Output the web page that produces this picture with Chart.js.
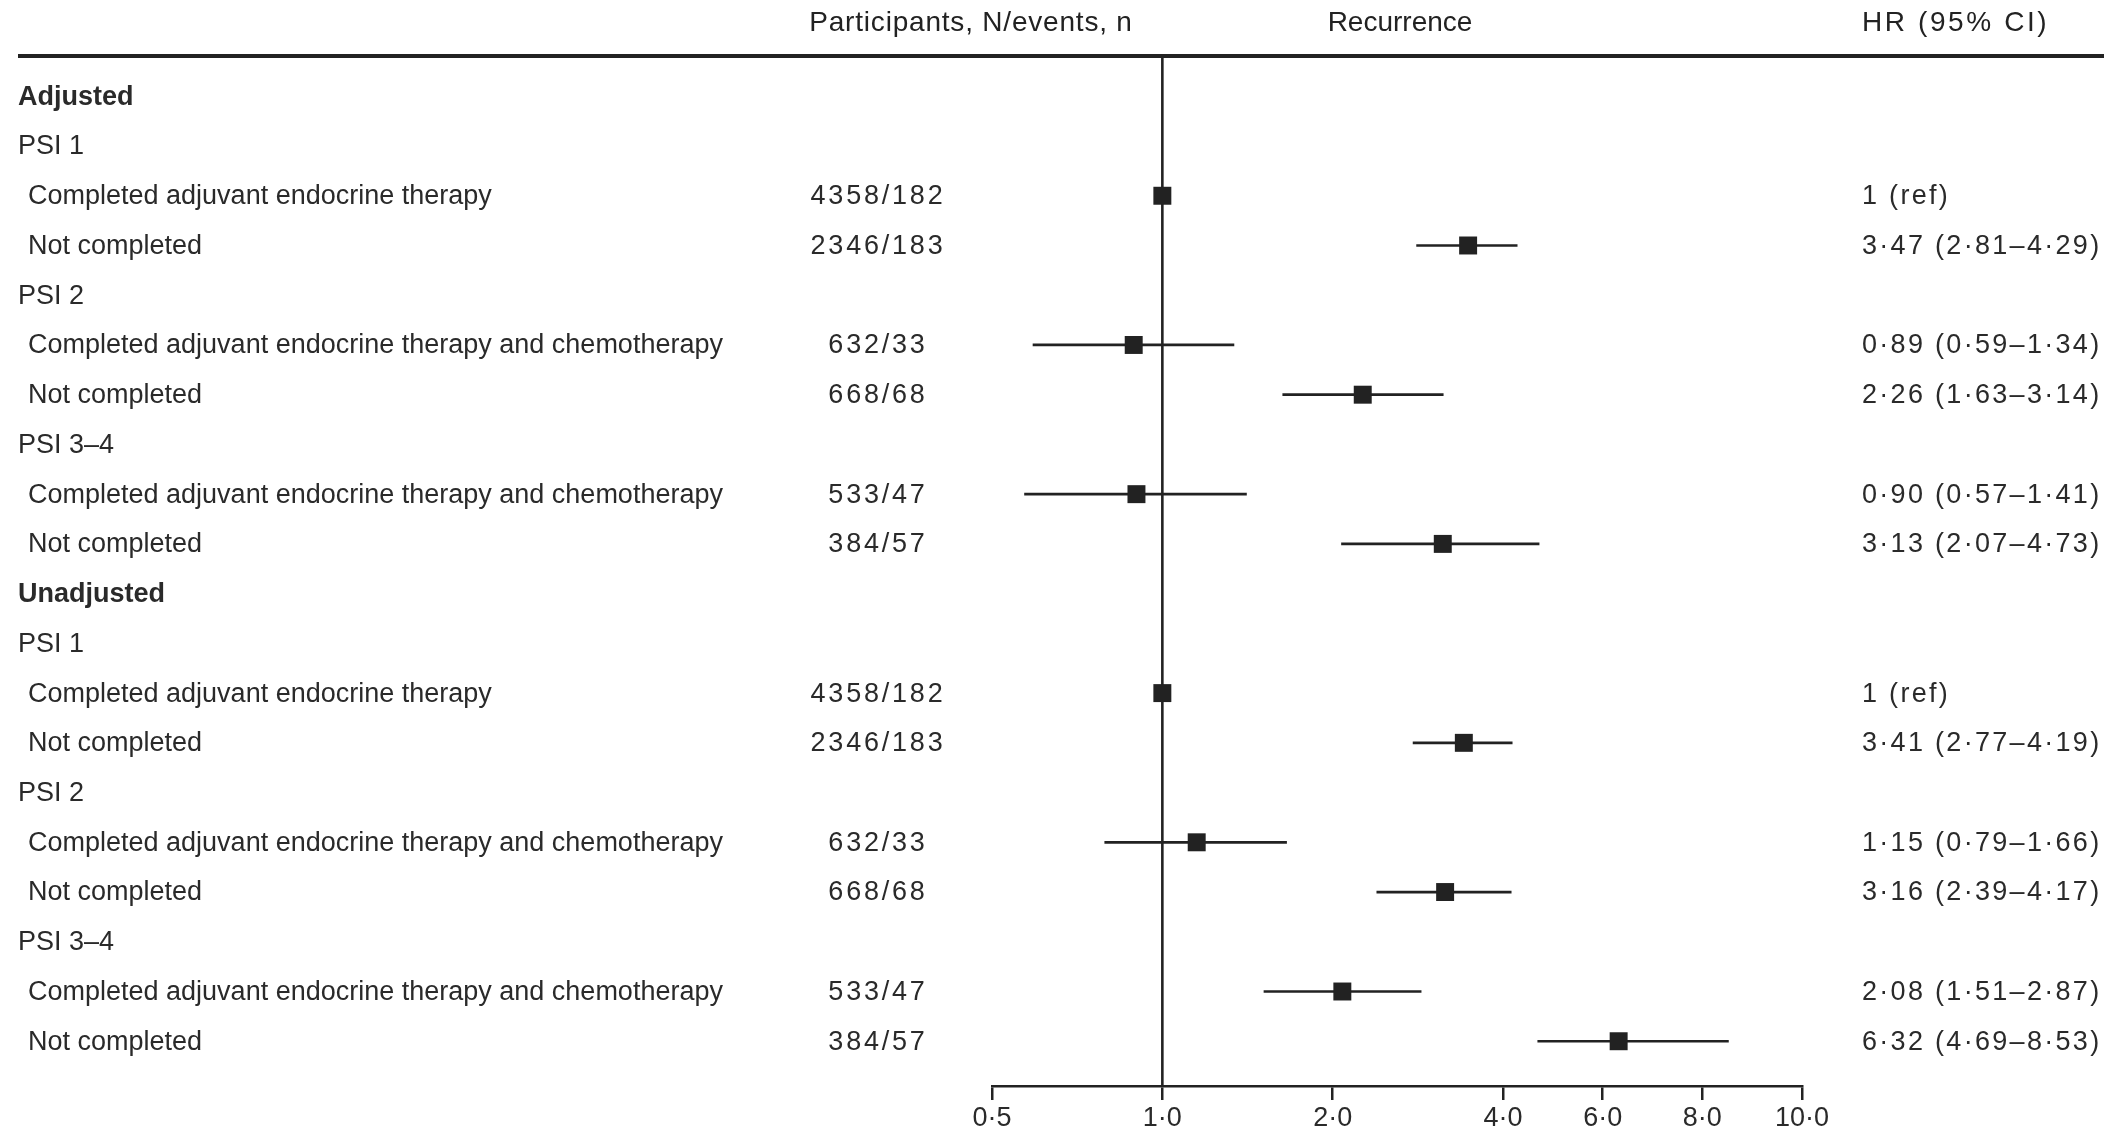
<!DOCTYPE html>
<html>
<head>
<meta charset="utf-8">
<script src="https://cdn.jsdelivr.net/npm/chart.js@4.4.1/dist/chart.umd.min.js"></script>
<style>
  html, body { margin: 0; padding: 0; background: #ffffff; }
  #wrap { width: 2128px; height: 1131px; position: relative; }
</style>
</head>
<body>
<div id="wrap"><canvas id="c"></canvas></div>
<script>
// ---------- DATA ----------
const rowLabels = [
  "Adjusted", "PSI 1", "Completed adjuvant endocrine therapy", "Not completed",
  "PSI 2", "Completed adjuvant endocrine therapy and chemotherapy", "Not completed",
  "PSI 3–4", "Completed adjuvant endocrine therapy and chemotherapy", "Not completed",
  "Unadjusted", "PSI 1", "Completed adjuvant endocrine therapy", "Not completed",
  "PSI 2", "Completed adjuvant endocrine therapy and chemotherapy", "Not completed",
  "PSI 3–4", "Completed adjuvant endocrine therapy and chemotherapy", "Not completed"
];
const rowLevel = [0,1,2,2,1,2,2,1,2,2,0,1,2,2,1,2,2,1,2,2];
const participants = [
  "", "", "4358/182", "2346/183", "", "632/33", "668/68", "", "533/47", "384/57",
  "", "", "4358/182", "2346/183", "", "632/33", "668/68", "", "533/47", "384/57"
];
const hr     = [null,null,1,3.47,null,0.89,2.26,null,0.90,3.13, null,null,1,3.41,null,1.15,3.16,null,2.08,6.32];
const ciLow  = [null,null,null,2.81,null,0.59,1.63,null,0.57,2.07, null,null,null,2.77,null,0.79,2.39,null,1.51,4.69];
const ciHigh = [null,null,null,4.29,null,1.34,3.14,null,1.41,4.73, null,null,null,4.19,null,1.66,4.17,null,2.87,8.53];
const hrText = [
  "", "", "1 (ref)", "3·47 (2·81–4·29)", "", "0·89 (0·59–1·34)", "2·26 (1·63–3·14)", "", "0·90 (0·57–1·41)", "3·13 (2·07–4·73)",
  "", "", "1 (ref)", "3·41 (2·77–4·19)", "", "1·15 (0·79–1·66)", "3·16 (2·39–4·17)", "", "2·08 (1·51–2·87)", "6·32 (4·69–8·53)"
];
const tickValues = [0.5, 1, 2, 4, 6, 8, 10];
const tickLabels = ["0·5", "1·0", "2·0", "4·0", "6·0", "8·0", "10·0"];
const headers = ["Participants, N/events, n", "Recurrence", "HR (95% CI)"];

// ---------- CUSTOM SCALE (log up to 4, evenly spaced ticks above) ----------
const SEG = Math.log2(1.5);
function fwd(v) { return v <= 4 ? Math.log2(v) : 2 + (v - 4) / 2 * SEG; }
function inv(u) { return u <= 2 ? Math.pow(2, u) : 4 + (u - 2) / SEG * 2; }
class PiecewiseScale extends Chart.LinearScale {
  buildTicks() { return tickValues.map(v => ({ value: v })); }
  getPixelForValue(v) {
    const a = fwd(this.min), b = fwd(this.max);
    return this.getPixelForDecimal((fwd(v) - a) / (b - a));
  }
  getValueForPixel(p) {
    const a = fwd(this.min), b = fwd(this.max);
    return inv(a + this.getDecimalForPixel(p) * (b - a));
  }
}
PiecewiseScale.id = 'piecewise';
PiecewiseScale.defaults = Chart.LinearScale.defaults;
Chart.register(PiecewiseScale);

// ---------- DATASETS ----------
const FONT = "'Liberation Sans Narrow', 'Liberation Sans', sans-serif";
const INK = '#222222';
const datasets = [];
const squares = [];
hr.forEach((v, i) => { if (v !== null) squares.push({ x: v, y: i }); });
datasets.push({
  type: 'scatter', data: squares, pointStyle: 'rect', pointRadius: 12.7,
  pointHoverRadius: 12.7, backgroundColor: INK, borderColor: INK, borderWidth: 0, order: 0
});
ciLow.forEach((lo, i) => {
  if (lo === null) return;
  datasets.push({
    type: 'scatter', showLine: true, data: [{ x: lo, y: i }, { x: ciHigh[i], y: i }],
    borderColor: INK, borderWidth: 2.7, pointRadius: 0, order: 1
  });
});

// ---------- TEXT / LINES PLUGIN ----------
function spaced(ctx, px) { if ('letterSpacing' in ctx) ctx.letterSpacing = px + 'px'; }
const tablePlugin = {
  id: 'tablePlugin',
  beforeDatasetsDraw(chart) {
    const { ctx, chartArea, scales } = chart;
    const x1 = scales.x.getPixelForValue(1);
    ctx.save();
    ctx.strokeStyle = INK;
    ctx.lineWidth = 2.6;
    ctx.beginPath();
    ctx.moveTo(x1, chartArea.top);
    ctx.lineTo(x1, chartArea.bottom);
    ctx.stroke();
    ctx.restore();
  },
  afterDraw(chart) {
    const { ctx, chartArea, scales } = chart;
    ctx.save();
    // header rule
    ctx.strokeStyle = INK;
    ctx.lineWidth = 4;
    ctx.beginPath();
    ctx.moveTo(18, chartArea.top);
    ctx.lineTo(2104, chartArea.top);
    ctx.stroke();
    // headers
    ctx.fillStyle = INK;
    ctx.textBaseline = 'middle';
    ctx.font = "28px " + FONT;
    ctx.textAlign = 'center';
    spaced(ctx, 0.8);
    ctx.fillText(headers[0], 971, 23);
    spaced(ctx, 0);
    ctx.fillText(headers[1], 1400, 23);
    ctx.textAlign = 'left';
    spaced(ctx, 2.6);
    ctx.fillText(headers[2], 1862, 23);
    // rows
    rowLabels.forEach((lab, i) => {
      const y = scales.y.getPixelForValue(i) + 1;
      ctx.fillStyle = '#2a2a2a';
      ctx.textAlign = 'left';
      spaced(ctx, 0);
      if (rowLevel[i] === 0) {
        ctx.font = "bold 27px " + FONT;
        ctx.fillText(lab, 18, y);
      } else if (rowLevel[i] === 1) {
        ctx.font = "27px " + FONT;
        ctx.fillText(lab, 18, y);
      } else {
        ctx.font = "27px " + FONT;
        ctx.fillText(lab, 28, y);
      }
      ctx.font = "27px " + FONT;
      if (participants[i]) {
        ctx.textAlign = 'center';
        spaced(ctx, 2.8);
        ctx.fillText(participants[i], 878, y);
      }
      if (hrText[i]) {
        ctx.textAlign = 'left';
        spaced(ctx, 2.3);
        ctx.fillText(hrText[i], 1862, y);
      }
    });
    ctx.restore();
  }
};

new Chart(document.getElementById('c'), {
  type: 'scatter',
  data: { datasets },
  options: {
    responsive: true,
    maintainAspectRatio: false,
    animation: false,
    events: [],
    layout: { padding: { left: 992, right: 326, top: 56, bottom: 0 } },
    plugins: { legend: { display: false }, tooltip: { enabled: false } },
    scales: {
      x: {
        type: 'piecewise',
        min: 0.5, max: 10,
        position: 'bottom',
        afterFit(scale) { scale.height = 45; },
        grid: { drawOnChartArea: false, drawTicks: true, tickLength: 14, color: INK, lineWidth: 2.5 },
        border: { display: true, color: INK, width: 2.5 },
        ticks: {
          autoSkip: false, maxRotation: 0, padding: 2, color: '#2a2a2a',
          font: { family: FONT, size: 27 },
          callback: (v) => { const k = tickValues.indexOf(v); return k >= 0 ? tickLabels[k] : ''; }
        }
      },
      y: {
        type: 'linear', min: -0.81, max: 19.9, reverse: true, display: false
      }
    }
  },
  plugins: [tablePlugin]
});
</script>
</body>
</html>
